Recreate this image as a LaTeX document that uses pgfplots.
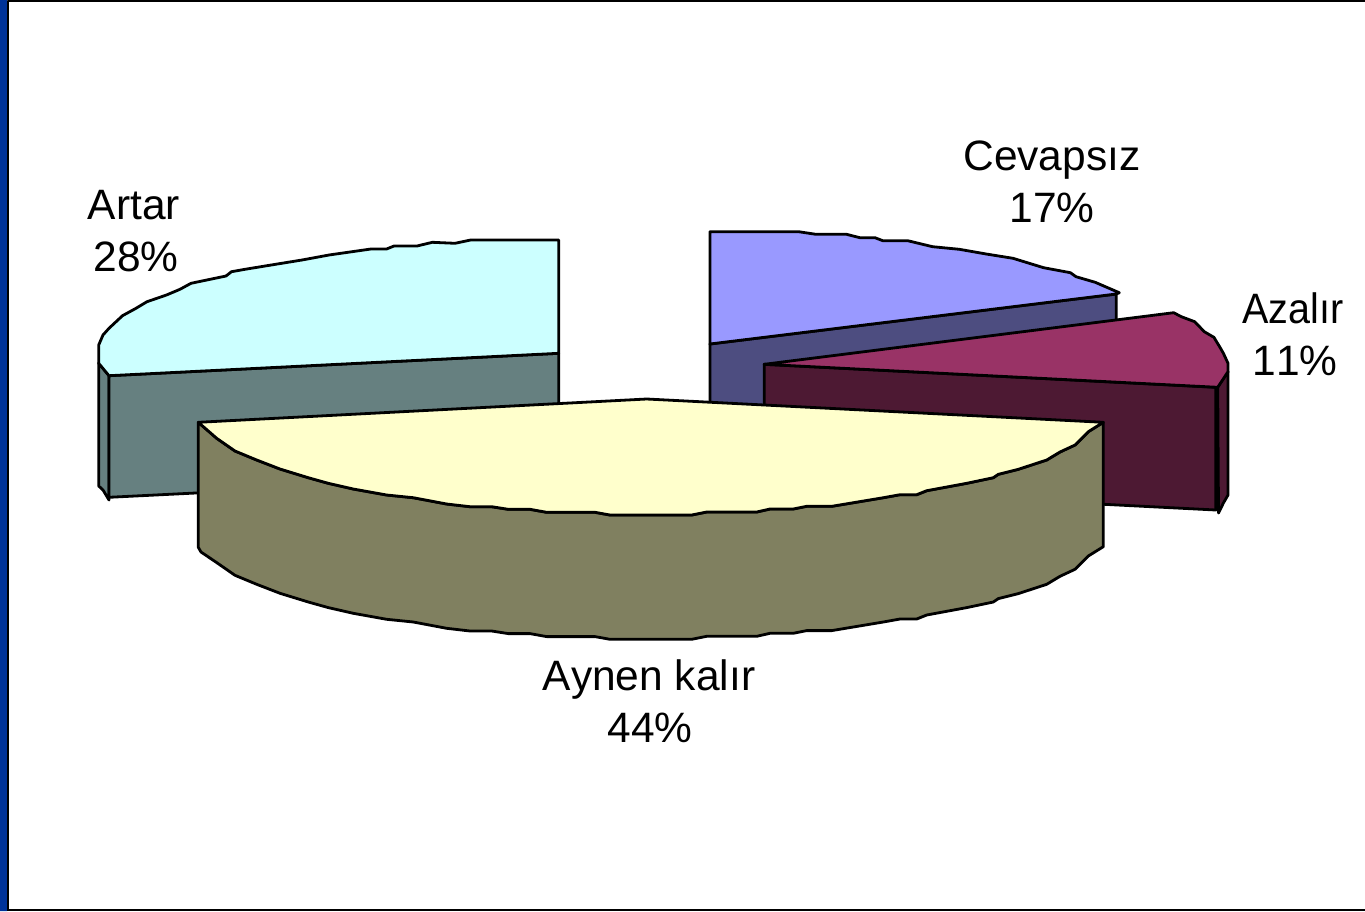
\documentclass[border=0pt]{standalone}
\usepackage{pgfplots}
\pgfplotsset{compat=1.18}
\usepackage{fontspec}
\setmainfont{Liberation Sans}
\definecolor{artarT}{HTML}{CCFFFF}
\definecolor{artarS}{HTML}{668080}
\definecolor{cevT}{HTML}{9999FF}
\definecolor{cevS}{HTML}{4D4D80}
\definecolor{azaT}{HTML}{993366}
\definecolor{azaS}{HTML}{4D1933}
\definecolor{ayT}{HTML}{FFFFCC}
\definecolor{ayS}{HTML}{808060}
\definecolor{barblue}{HTML}{003399}
\begin{document}
\begin{tikzpicture}
\begin{axis}[
  scale only axis, width=1365pt, height=911pt,
  xmin=0, xmax=1365, ymin=0, ymax=911, y dir=reverse,
  hide axis, clip=true,
  every axis plot/.append style={line width=2.8pt, line join=round, draw=black, mark=none},
]
% frame
\addplot[draw=none, fill=barblue] coordinates {(0,0)(7,0)(7,911)(0,911)} \closedcycle;
\addplot[draw=black, line width=2pt] coordinates {(8,911)(8,1)(1365,1)};
\addplot[draw=black, line width=2pt] coordinates {(8,910)(1365,910)};
% Artar
\addplot[fill=artarS] coordinates {(98.7,363)(109,375.7)(109,497.3)(109,500)(103,490)(98.7,486)} -- cycle;
\addplot[fill=artarS] coordinates {(109,375.7)(558.7,353.3)(558.7,475)(109,497.3)} -- cycle;
\addplot[fill=artarT] coordinates {(558.7,240)(470.7,240)(455,243.3)(432.4,242.3)(417,246)(394,246)(386.5,249)(371,249)(329,255)(302,260)(275.5,264.3)(245,269.3)(231.5,271.7)(226,276)(191,283.3)(180,289.3)(166.5,295)(147,301.7)(136,308.3)(122.5,315.7)(109,328.3)(103,335)(98.7,345)(98.7,363.3)(109,375.7)(558.7,353.3)} -- cycle;
% Cevapsiz
\addplot[fill=cevS] coordinates {(709.9,344)(1116.3,294)(1116.3,380)(709.9,440)} -- cycle;
\addplot[fill=cevT] coordinates {(709.9,231.7)(798.6,231.7)(815.9,234.3)(846.5,234.3)(859.9,237.7)(875,237.7)(882.8,240.7)(907.7,240.7)(932.6,246.7)(959.4,249.3)(986.2,254)(1013,258.3)(1043.6,267.7)(1070.4,272.7)(1076,276.7)(1095.2,282.3)(1119.3,292.7)(1116.3,294)(709.9,344)} -- cycle;
% Azalir
\addplot[fill=azaS] coordinates {(1217.7,387)(1228,371.7)(1228,495)(1223.4,503)(1218.5,513)} -- cycle;
\addplot[fill=azaS] coordinates {(764.2,364.3)(1215.8,387.3)(1215.8,510)(764.2,487)} -- cycle;
\addplot[fill=azaT] coordinates {(764.2,364.3)(1173.7,312.7)(1181.3,316.7)(1194.7,321.7)(1204.3,331.7)(1213.9,337.3)(1219.6,346.7)(1223.4,353.3)(1228,363.3)(1228,371.7)(1217.7,387.3)} -- cycle;
% Aynen kalir
\addplot[fill=ayS] coordinates {(198.3,422.3)(216.7,438.3)(235,451)(256.7,460)(280,469)(308.3,477.7)(328.3,483.3)(353.3,489)(386.7,495)(413.3,497.7)(446.7,504)(470,506.7)(491.7,506.7)(508.3,509.3)(530,509.3)(546.7,512.3)(595,512.3)(610,515)(691.7,515)(706.7,512)(756.7,512)(770,509)(793.3,509)(806.7,506.3)(831.7,506.3)(883.3,497.7)(900,494.7)(916.7,494.7)(926.7,490.7)(966.7,483.3)(993.3,477.7)(998.3,474.3)(1018.3,469.3)(1046.7,460)(1060,452)(1075,445)(1088.3,431.7)(1103.3,422.3)(1103.3,546.7)(1088.3,556)(1075,569.3)(1060,576.3)(1046.7,584.3)(1018.3,593.6)(998.3,598.6)(993.3,602)(966.7,607.6)(926.7,615)(916.7,619)(900,619)(883.3,622)(831.7,630.6)(806.7,630.6)(793.3,633.3)(770,633.3)(756.7,636.3)(706.7,636.3)(691.7,639.3)(610,639.3)(595,636.6)(546.7,636.6)(530,633.6)(508.3,633.6)(491.7,631)(470,631)(446.7,628.3)(413.3,622)(386.7,619.3)(353.3,613.3)(328.3,607.6)(308.3,602)(280,593.3)(256.7,584.3)(235,575.3)(216.7,562.6)(201,552)(198.3,547.3)} -- cycle;
\addplot[fill=ayT] coordinates {(198.3,422.3)(646.7,399)(1103.3,422.3)(1088.3,431.7)(1075,445)(1060,452)(1046.7,460)(1018.3,469.3)(998.3,474.3)(993.3,477.7)(966.7,483.3)(926.7,490.7)(916.7,494.7)(900,494.7)(883.3,497.7)(831.7,506.3)(806.7,506.3)(793.3,509)(770,509)(756.7,512)(706.7,512)(691.7,515)(610,515)(595,512.3)(546.7,512.3)(530,509.3)(508.3,509.3)(491.7,506.7)(470,506.7)(446.7,504)(413.3,497.7)(386.7,495)(353.3,489)(328.3,483.3)(308.3,477.7)(280,469)(256.7,460)(235,451)(216.7,438.3)} -- cycle;
% labels
\tikzset{lab/.style={anchor=base, inner sep=0pt, font=\fontsize{42.5}{50}\selectfont\addfontfeatures{Kerning=Off}, text=black}}
\node[lab] at (axis cs:1052,170) {Cevapsız};
\node[lab] at (axis cs:1052,222) {17\%};
\node[lab] at (axis cs:134,219) {Artar};
\node[lab] at (axis cs:136,271) {28\%};
\node[lab, xscale=0.93, transform shape] at (axis cs:1293,323) {Azalır};
\node[lab] at (axis cs:1295,375) {11\%};
\node[lab] at (axis cs:649,690) {Aynen kalır};
\node[lab] at (axis cs:650,742) {44\%};
\end{axis}
\end{tikzpicture}
\end{document}
